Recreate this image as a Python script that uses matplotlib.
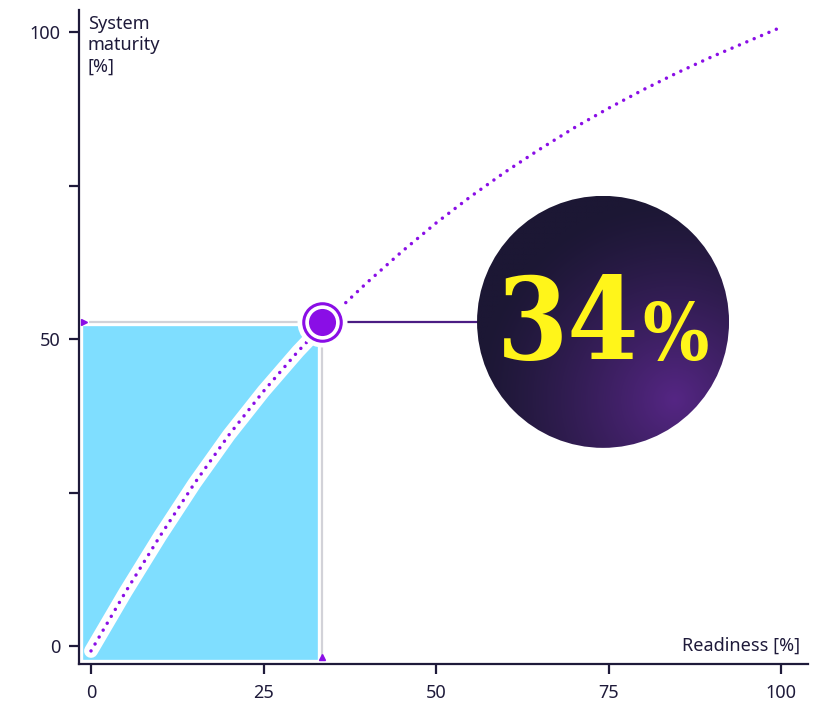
import matplotlib
import numpy as np

matplotlib.use("AGG")

import matplotlib.pyplot as plt  # isort:skip
from matplotlib.patches import Circle, Rectangle  # isort:skip

# values
readiness = [0, 5, 10, 15, 20, 25, 30, 35, 40, 45, 50,
             55, 60, 65, 70, 75, 80, 85, 90, 95, 100]
maturity = [-0.8, 8.8, 17.9, 26.5, 34.4, 41.5, 48.0, 53.9, 59.2, 64.2, 68.9,
            73.2, 77.2, 80.9, 84.4, 87.6, 90.6, 93.4, 96.0, 98.4, 100.8]

highlight_readiness = 33.5
highlight_maturity = 52.8
highlight_label = "34"

x_ticks = [0, 25, 50, 75, 100]
x_tick_labels = ["0", "25", "50", "75", "100"]
y_ticks = [0, 25, 50, 75, 100]
y_tick_labels = ["0", "", "50", "", "100"]

x_label = "Readiness [%]"
y_label = "System\nmaturity\n[%]"

# styling
W, H = 817, 704
INK = "#1e1a3a"
BLUE = "#7fdeff"
PURPLE = "#8a0ee6"
GREY = "#d2d2d8"
CONNECT = "#4b1d83"
YELLOW = "#fff51a"

plt.rcParams["font.family"] = ["Noto Sans", "DejaVu Sans"]

fig = plt.figure(figsize=(W / 100, H / 100), dpi=100)
ax = fig.add_axes([79 / W, 40 / H, 729 / W, 654 / H])
ax.set_xlim(-1.74, 103.9)
ax.set_ylim(-2.93, 103.6)

for side in ("top", "right"):
    ax.spines[side].set_visible(False)
for side in ("left", "bottom"):
    ax.spines[side].set_color(INK)
    ax.spines[side].set_linewidth(1.6)

ax.set_xticks(x_ticks, x_tick_labels)
ax.set_yticks(y_ticks, y_tick_labels)
ax.tick_params(axis="both", colors=INK, labelcolor=INK, length=7.5, width=1.6,
               labelsize=13)
ax.tick_params(axis="x", pad=7)
ax.tick_params(axis="y", pad=6)

xmin, ymin = ax.get_xlim()[0], ax.get_ylim()[0]

# blue area under the highlighted point
ax.add_patch(Rectangle((xmin, ymin), highlight_readiness - xmin,
                       highlight_maturity - ymin, facecolor=BLUE,
                       edgecolor="white", linewidth=6, zorder=1))

# grey reference lines with small start triangles
ax.plot([-0.3, highlight_readiness], [highlight_maturity] * 2, color=GREY,
        lw=1.6, zorder=2, solid_capstyle="butt")
ax.plot([highlight_readiness] * 2, [-1.6, highlight_maturity], color=GREY,
        lw=1.6, zorder=2, solid_capstyle="butt")
ax.plot([-1.0], [highlight_maturity], marker=">", ms=4, color=PURPLE, zorder=3)
ax.plot([highlight_readiness], [-1.8], marker="^", ms=4, color=PURPLE, zorder=3)

# connector towards the bubble
bubble_readiness = 74.2
ax.plot([highlight_readiness, bubble_readiness], [highlight_maturity] * 2,
        color=CONNECT, lw=1.6, zorder=2)

# curve: white halo + dotted purple
ax.plot(readiness, maturity, color="white", lw=10, solid_capstyle="round",
        solid_joinstyle="round", zorder=3)
ax.plot(readiness, maturity, color=PURPLE, lw=2.5, linestyle=(0, (0.01, 2.3)),
        dash_capstyle="round", zorder=4)

# highlighted point
ax.plot([highlight_readiness], [highlight_maturity], "o", ms=36, mfc="white",
        mec="none", zorder=5)
ax.plot([highlight_readiness], [highlight_maturity], "o", ms=27, mfc="white",
        mec=PURPLE, mew=2.2, zorder=6)
ax.plot([highlight_readiness], [highlight_maturity], "o", ms=19.5, mfc=PURPLE,
        mec="none", zorder=7)

# axis labels
ax.text(0.012, 0.993, y_label, transform=ax.transAxes, ha="left", va="top",
        fontsize=13, color=INK, linespacing=1.25)
ax.text(0.989, 0.02, x_label, transform=ax.transAxes, ha="right",
        va="baseline", fontsize=13, color=INK)

# bubble with the highlighted value
cx, cy = ax.transData.transform((bubble_readiness, highlight_maturity))
r = 126
bax = fig.add_axes([(cx - r) / W, (cy - r) / H, 2 * r / W, 2 * r / H])
bax.set_xlim(-r, r)
bax.set_ylim(-r, r)
bax.axis("off")

gx, gy = np.meshgrid(np.linspace(-r, r, 300), np.linspace(-r, r, 300))
dist = np.hypot(gx - 72, gy + 78)
t = np.clip(1 - dist / 200, 0, 1) ** 1.3
base = np.array([0x1c, 0x17, 0x34]) / 255
glow = np.array([0x55, 0x26, 0x84]) / 255
img = base + (glow - base) * t[..., None]
im = bax.imshow(img, extent=(-r, r, -r, r), origin="lower",
                interpolation="bilinear")
im.set_clip_path(Circle((0, 0), r, transform=bax.transData))

big_font = dict(family="DejaVu Serif", fontstretch="condensed",
                fontweight="bold", color=YELLOW)
bax.text(36, -37, highlight_label, ha="right", va="baseline", fontsize=82,
         **big_font)
bax.text(39, -38, "%", ha="left", va="baseline", fontsize=56, **big_font)

fig.savefig("out.png", dpi=100)
plt.close(fig)
